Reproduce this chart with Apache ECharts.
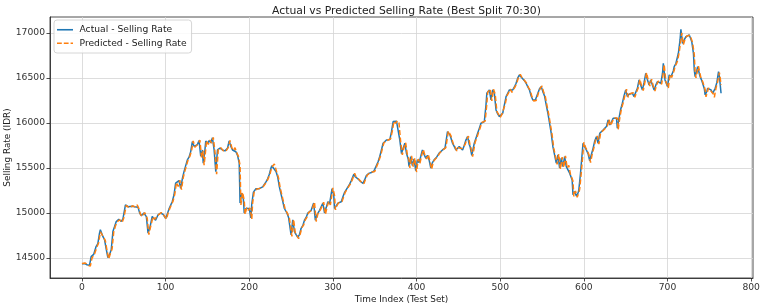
<!DOCTYPE html>
<html>
<head>
<meta charset="utf-8">
<script src="https://cdn.jsdelivr.net/npm/echarts@6/dist/echarts.min.js"></script>
<style>html,body{margin:0;padding:0;background:#fff}#c{width:761px;height:308px}</style>
</head>
<body>
<div id="c"></div>
<script>
const titleText = "Actual vs Predicted Selling Rate (Best Split 70:30)";
const xLabel = "Time Index (Test Set)";
const yLabel = "Selling Rate (IDR)";
const seriesNames = ["Actual - Selling Rate", "Predicted - Selling Rate"];

const actual = [[0,14435],[3,14440],[6,14425],[9,14418],[11,14515],[14,14540],[17,14630],[19,14660],[21,14777],[22,14814],[25,14740],[27,14703],[29,14600],[31,14505],[33,14540],[35,14592],[37,14795],[39,14850],[41,14906],[44,14930],[47,14906],[49,14935],[52,15091],[55,15070],[57,15065],[60,15075],[63,15070],[65,15085],[67,15065],[69,14999],[71,14970],[74,15000],[77,14960],[79,14777],[81,14830],[84,14961],[86,14940],[88,14920],[91,14980],[94,15000],[97,14985],[100,14940],[102,14990],[104,15043],[108,15128],[110,15200],[112,15332],[114,15310],[116,15360],[118,15273],[120,15380],[122,15460],[124,15470],[126,15590],[128,15620],[130,15682],[132,15793],[134,15740],[136,15720],[138,15760],[140,15804],[142,15630],[144,15700],[145,15554],[147,15700],[148,15800],[150,15770],[152,15804],[154,15780],[156,15835],[158,15700],[160,15460],[162,15700],[165,15720],[168,15700],[171,15690],[174,15720],[176,15800],[178,15740],[180,15700],[182,15720],[184,15680],[186,15640],[188,15554],[189,15110],[191,15221],[193,15150],[194,15000],[196,15050],[198,15040],[200,15050],[202,14945],[203,15100],[205,15232],[208,15270],[210,15250],[212,15270],[214,15260],[216,15290],[218,15300],[220,15345],[222,15380],[224,15430],[226,15500],[227,15525],[229,15540],[232,15460],[234,15400],[236,15290],[239,15170],[242,15050],[245,15000],[247,14950],[250,14758],[252,14925],[254,14795],[256,14760],[258,14730],[260,14760],[262,14830],[264,14860],[266,14920],[268,14950],[270,15000],[272,15010],[274,15030],[277,15110],[279,14920],[281,14980],[284,15030],[286,15070],[288,15110],[290,15000],[292,15060],[294,15125],[296,15100],[299,15270],[301,15200],[302,15050],[304,15080],[306,15110],[308,15100],[310,15125],[312,15180],[314,15230],[316,15260],[318,15290],[320,15320],[322,15360],[325,15430],[327,15400],[330,15380],[333,15350],[336,15330],[338,15370],[340,15415],[343,15440],[346,15450],[349,15465],[351,15470],[354,15570],[356,15627],[358,15700],[360,15775],[362,15790],[364,15810],[366,15800],[368,15815],[370,15900],[372,16015],[374,16000],[376,16020],[378,16010],[380,15810],[382,15660],[384,15720],[386,15775],[388,15660],[390,15600],[391,15516],[393,15627],[395,15527],[397,15600],[399,15470],[401,15590],[403,15560],[405,15627],[407,15700],[409,15650],[411,15610],[413,15640],[415,15590],[417,15500],[419,15560],[421,15590],[424,15620],[427,15665],[429,15680],[431,15700],[434,15720],[435,15737],[437,15904],[440,15867],[443,15775],[445,15740],[447,15700],[449,15720],[451,15737],[453,15720],[455,15700],[457,15750],[459,15810],[461,15848],[463,15760],[464,15737],[466,15640],[469,15775],[471,15830],[473,15885],[475,15940],[477,15997],[479,16000],[481,16015],[483,16200],[484,16330],[486,16340],[487,16367],[489,16256],[491,16367],[493,16330],[495,16145],[497,16100],[499,16071],[501,16090],[503,16108],[505,16200],[507,16293],[509,16330],[511,16367],[513,16350],[515,16367],[517,16400],[519,16441],[521,16500],[523,16533],[525,16510],[527,16496],[529,16470],[531,16441],[533,16400],[535,16367],[537,16300],[539,16256],[542,16256],[545,16330],[547,16380],[549,16404],[551,16348],[553,16300],[555,16200],[557,16108],[559,15997],[561,15885],[563,15737],[565,15645],[567,15554],[569,15645],[571,15500],[573,15610],[575,15516],[577,15627],[579,15516],[581,15535],[583,15442],[586,15368],[587,15202],[589,15239],[591,15190],[593,15220],[594,15257],[596,15442],[598,15663],[599,15775],[601,15737],[603,15700],[605,15660],[607,15580],[609,15650],[611,15718],[613,15800],[615,15848],[617,15775],[619,15885],[621,15900],[623,15922],[625,15940],[627,15960],[629,16034],[631,15978],[633,16010],[635,16052],[637,16040],[639,16052],[640,15941],[642,16052],[644,16150],[646,16219],[648,16300],[650,16367],[652,16293],[654,16320],[656,16311],[658,16330],[660,16293],[662,16340],[664,16385],[666,16478],[668,16420],[670,16367],[672,16450],[674,16552],[676,16480],[678,16422],[680,16478],[682,16420],[684,16367],[686,16420],[688,16459],[690,16450],[692,16441],[694,16550],[695,16663],[697,16478],[700,16404],[702,16533],[704,16510],[705,16496],[707,16580],[708,16626],[710,16660],[711,16681],[713,16774],[715,16922],[716,17040],[718,16885],[720,16922],[722,16959],[724,16960],[726,16977],[728,16930],[729,16903],[731,16774],[732,16589],[733,16515],[735,16580],[736,16626],[738,16550],[739,16515],[741,16470],[742,16441],[744,16380],[745,16311],[747,16350],[748,16385],[750,16370],[752,16367],[754,16330],[755,16311],[757,16385],[759,16450],[761,16570],[762,16520],[764,16330]];

const predicted = [[0,14440],[4,14445],[7,14420],[10,14410],[12,14500],[15,14545],[18,14625],[20,14670],[22,14790],[23,14800],[26,14730],[28,14690],[30,14580],[32,14490],[34,14550],[36,14600],[38,14790],[40,14855],[42,14900],[45,14925],[48,14895],[50,14945],[53,15085],[56,15060],[58,15070],[61,15080],[64,15065],[66,15090],[68,15050],[70,14985],[72,14960],[75,15005],[78,14940],[80,14760],[82,14845],[85,14960],[87,14930],[89,14910],[92,14985],[95,15005],[98,14975],[101,14930],[103,15000],[105,15050],[109,15135],[111,15210],[113,15340],[115,15295],[117,15365],[119,15260],[121,15390],[123,15465],[125,15480],[127,15595],[129,15630],[131,15690],[133,15800],[135,15730],[137,15715],[139,15770],[141,15810],[143,15615],[145,15690],[146,15530],[148,15710],[149,15805],[151,15760],[153,15810],[155,15775],[157,15840],[159,15680],[161,15430],[163,15710],[166,15725],[169,15690],[172,15685],[175,15730],[177,15805],[179,15730],[181,15695],[183,15725],[185,15670],[187,15630],[189,15530],[190,15090],[192,15230],[194,15140],[195,14985],[197,15060],[199,15030],[201,15055],[203,14930],[204,15110],[206,15240],[209,15265],[211,15245],[213,15275],[215,15255],[217,15295],[219,15305],[221,15350],[223,15390],[225,15440],[227,15510],[228,15530],[230,15545],[233,15450],[235,15390],[237,15280],[240,15160],[243,15040],[246,14990],[248,14940],[251,14740],[253,14930],[255,14780],[257,14750],[259,14715],[261,14770],[263,14840],[265,14865],[267,14925],[269,14955],[271,15005],[273,15000],[275,15035],[278,15120],[280,14905],[282,14990],[285,15035],[287,15075],[289,15120],[291,14985],[293,15065],[295,15130],[297,15090],[300,15280],[302,15190],[303,15035],[305,15085],[307,15115],[309,15095],[311,15130],[313,15185],[315,15235],[317,15265],[319,15295],[321,15325],[323,15365],[326,15440],[328,15395],[331,15375],[334,15345],[337,15325],[339,15375],[341,15420],[344,15445],[347,15455],[350,15460],[352,15480],[355,15580],[357,15635],[359,15710],[361,15780],[363,15795],[365,15805],[367,15795],[369,15825],[371,15910],[373,16020],[375,15995],[377,16025],[379,16000],[381,15790],[383,15645],[385,15730],[387,15780],[389,15645],[391,15590],[392,15500],[394,15635],[396,15515],[398,15610],[400,15455],[402,15600],[404,15550],[406,15635],[408,15705],[410,15640],[412,15600],[414,15650],[416,15575],[418,15485],[420,15570],[422,15595],[425,15625],[428,15670],[430,15685],[432,15705],[435,15725],[436,15745],[438,15910],[441,15860],[444,15765],[446,15735],[448,15690],[450,15725],[452,15740],[454,15715],[456,15695],[458,15760],[460,15815],[462,15855],[464,15750],[465,15725],[467,15625],[470,15785],[472,15835],[474,15890],[476,15945],[478,16005],[480,15995],[482,16020],[484,16210],[485,16340],[487,16330],[488,16375],[490,16245],[492,16375],[494,16320],[496,16130],[498,16095],[500,16060],[502,16095],[504,16115],[506,16210],[508,16300],[510,16335],[512,16375],[514,16340],[516,16375],[518,16405],[520,16450],[522,16510],[524,16540],[526,16505],[528,16490],[530,16460],[532,16435],[534,16390],[536,16360],[538,16290],[540,16245],[543,16250],[546,16340],[548,16385],[550,16410],[552,16340],[554,16290],[556,16190],[558,16095],[560,15985],[562,15870],[564,15720],[566,15630],[568,15540],[570,15655],[572,15485],[574,15620],[576,15505],[578,15635],[580,15500],[582,15530],[584,15430],[587,15355],[588,15185],[590,15245],[592,15175],[594,15225],[595,15265],[597,15455],[599,15675],[600,15785],[602,15730],[604,15695],[606,15650],[608,15560],[610,15655],[612,15725],[614,15810],[616,15855],[618,15765],[620,15890],[622,15905],[624,15925],[626,15945],[628,15965],[630,16040],[632,15970],[634,16015],[636,16055],[638,16035],[640,16055],[641,15925],[643,16060],[645,16160],[647,16225],[649,16305],[651,16375],[653,16285],[655,16325],[657,16305],[659,16335],[661,16285],[663,16345],[665,16390],[667,16485],[669,16410],[671,16360],[673,16455],[675,16560],[677,16470],[679,16410],[681,16485],[683,16410],[685,16355],[687,16425],[689,16465],[691,16445],[693,16430],[695,16560],[696,16650],[698,16460],[701,16390],[703,16540],[705,16505],[706,16490],[708,16585],[709,16630],[711,16665],[712,16690],[714,16785],[716,16930],[717,17000],[719,16870],[721,16930],[723,16965],[725,16955],[727,16975],[729,16920],[730,16890],[732,16760],[733,16570],[734,16500],[736,16590],[737,16630],[739,16540],[740,16500],[742,16460],[743,16430],[745,16370],[746,16290],[748,16355],[749,16390],[751,16365],[753,16360],[755,16320],[756,16285],[758,16390],[760,16460],[762,16560],[763,16500],[764,16420]];

const xTicks = [0,100,200,300,400,500,600,700,800];
const yTicks = [14500,15000,15500,16000,16500,17000];

const font = "DejaVu Sans";
const solidIcon = 'path://M0,0H20V2H0Z';
const dashIcon = 'path://M0,0H6V2H0Z M8.5,0H14.5V2H8.5Z M17,0H20V2H17Z';
const chart = echarts.init(document.getElementById('c'), null, {renderer:'canvas'});
chart.setOption({
  animation: false,
  backgroundColor: '#fff',
  title: {
    text: titleText, left: 401.5, top: 1, textAlign: 'center',
    textStyle: {fontFamily: font, fontSize: 10.8, fontWeight: 'normal', color: '#222'}
  },
  legend: {
    left: 54, top: 20, orient: 'vertical',
    data: [{name: seriesNames[0], icon: solidIcon}, {name: seriesNames[1], icon: dashIcon}],
    itemWidth: 19, itemHeight: 1.6, itemGap: 2,
    padding: [4, 5, 4, 3],
    borderColor: '#cccccc', borderWidth: 0.8, borderRadius: 3,
    backgroundColor: 'rgba(255,255,255,0.85)',
    textStyle: {fontFamily: font, fontSize: 9.2, color: '#222', lineHeight: 11.5}
  },
  grid: {left: 50, right: 8, top: 17, bottom: 30, outerBoundsMode: 'none', containLabel: false, show: true, borderColor: '#222', borderWidth: 0.8, backgroundColor: 'transparent'},
  xAxis: {
    type: 'value', min: -38.2, max: 802.2, splitNumber: 8,
    name: xLabel, nameLocation: 'middle', nameGap: 17, nameMoveOverlap: false,
    nameTextStyle: {fontFamily: font, fontSize: 8.9, color: '#222'},
    axisLine: {show: true, onZero: false, lineStyle: {color: '#222', width: 0.8}},
    axisTick: {show: true, length: 3.5, lineStyle: {color: '#222', width: 0.8}, customValues: xTicks},
    axisLabel: {fontFamily: font, fontSize: 9.2, color: '#333', margin: 5, customValues: xTicks, formatter: v => String(v)},
    splitLine: {show: true, lineStyle: {color: '#d4d4d4', width: 0.8}}
  },
  yAxis: {
    type: 'value', min: 14278, max: 17177, splitNumber: 5,
    name: yLabel, nameLocation: 'middle', nameGap: 38, nameRotate: 90, nameMoveOverlap: false,
    nameTextStyle: {fontFamily: font, fontSize: 8.9, color: '#222'},
    axisLine: {show: true, onZero: false, lineStyle: {color: '#222', width: 0.8}},
    axisTick: {show: true, length: 3.5, lineStyle: {color: '#222', width: 0.8}, customValues: yTicks},
    axisLabel: {fontFamily: font, fontSize: 9.2, color: '#333', margin: 5, customValues: yTicks, formatter: v => String(v)},
    splitLine: {show: true, lineStyle: {color: '#d4d4d4', width: 0.8}}
  },
  series: [
    {name: seriesNames[0], type: 'line', data: actual, symbol: 'none', lineStyle: {color: '#1f77b4', width: 1.5}, itemStyle: {color: '#1f77b4'}},
    {name: seriesNames[1], type: 'line', data: predicted, symbol: 'none', lineStyle: {color: '#ff7f0e', width: 1.5, type: [5, 2.5]}, itemStyle: {color: '#ff7f0e'}}
  ]
});
</script>
</body>
</html>
